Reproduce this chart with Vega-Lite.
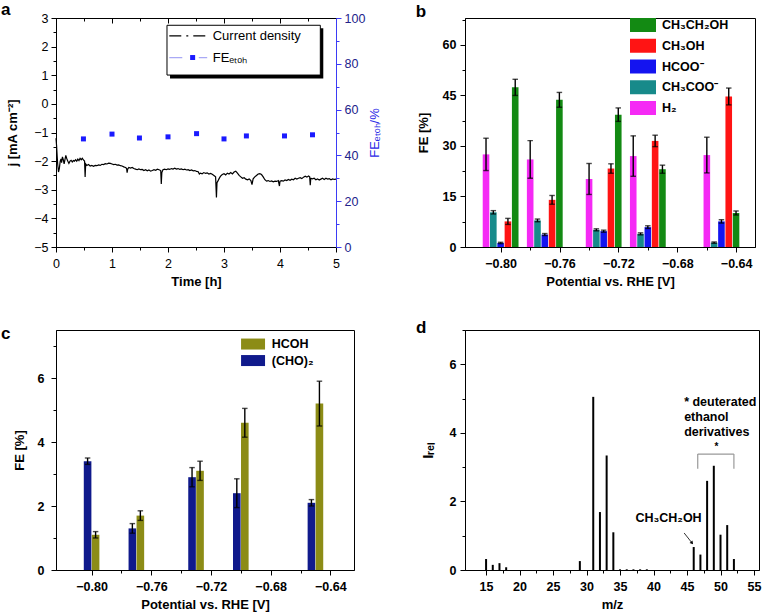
{
  "$schema": "https://vega.github.io/schema/vega-lite/v6.json",
  "background": "white",
  "padding": 0,
  "columns": 2,
  "spacing": {"row": 83, "column": 111},
  "bounds": "flush",
  "resolve": {"scale": {"color": "independent"}},
  "config": {
    "font": "Liberation Sans",
    "view": {"stroke": "black", "strokeWidth": 1},
    "axis": {"grid": false, "domainColor": "black", "tickColor": "black", "labelColor": "black", "titleColor": "black", "labelFont": "Liberation Sans", "titleFont": "Liberation Sans", "labelFontSize": 12.5, "titleFontSize": 13, "titleFontWeight": "bold", "labelOverlap": false, "labelFlush": false, "labelBound": false, "tickSize": 5, "domainWidth": 1, "tickWidth": 1},
    "title": {"anchor": "start", "frame": "group", "fontSize": 17, "fontWeight": "bold", "font": "Liberation Sans", "baseline": "alphabetic", "offset": 0, "color": "black"}
  },
  "datasets": {
    "current": [
      {"t":0,"j":-1.2},{"t":0.01,"j":-1.45},{"t":0.02,"j":-1.8},{"t":0.03,"j":-2.1},{"t":0.045,"j":-2.38},{"t":0.06,"j":-2.25},{"t":0.075,"j":-2.0},{"t":0.09,"j":-1.92},{"t":0.1,"j":-2.05},{"t":0.115,"j":-1.85},{"t":0.13,"j":-1.95},{"t":0.145,"j":-2.1},{"t":0.16,"j":-1.95},{"t":0.175,"j":-1.8},{"t":0.19,"j":-1.9},{"t":0.21,"j":-2.0},{"t":0.23,"j":-2.08},{"t":0.25,"j":-2.0},{"t":0.27,"j":-1.97},{"t":0.29,"j":-2.03},{"t":0.31,"j":-1.98},{"t":0.33,"j":-2.0},{"t":0.35,"j":-1.95},{"t":0.37,"j":-2.0},{"t":0.39,"j":-1.93},{"t":0.41,"j":-1.98},{"t":0.43,"j":-1.9},{"t":0.45,"j":-1.95},{"t":0.47,"j":-1.9},{"t":0.49,"j":-1.96},{"t":0.51,"j":-2.0},{"t":0.52,"j":-2.55},{"t":0.53,"j":-2.1},{"t":0.55,"j":-2.15},{"t":0.58,"j":-2.12},{"t":0.61,"j":-2.17},{"t":0.64,"j":-2.15},{"t":0.67,"j":-2.18},{"t":0.7,"j":-2.15},{"t":0.73,"j":-2.16},{"t":0.76,"j":-2.13},{"t":0.79,"j":-2.15},{"t":0.82,"j":-2.11},{"t":0.85,"j":-2.12},{"t":0.88,"j":-2.09},{"t":0.91,"j":-2.1},{"t":0.94,"j":-2.07},{"t":0.97,"j":-2.08},{"t":1.0,"j":-2.1},{"t":1.03,"j":-2.12},{"t":1.06,"j":-2.11},{"t":1.09,"j":-2.14},{"t":1.12,"j":-2.13},{"t":1.15,"j":-2.16},{"t":1.18,"j":-2.17},{"t":1.21,"j":-2.2},{"t":1.24,"j":-2.22},{"t":1.26,"j":-2.25},{"t":1.27,"j":-2.4},{"t":1.28,"j":-2.28},{"t":1.3,"j":-2.22},{"t":1.33,"j":-2.24},{"t":1.36,"j":-2.22},{"t":1.39,"j":-2.26},{"t":1.42,"j":-2.28},{"t":1.45,"j":-2.3},{"t":1.48,"j":-2.27},{"t":1.51,"j":-2.3},{"t":1.54,"j":-2.29},{"t":1.57,"j":-2.33},{"t":1.6,"j":-2.3},{"t":1.63,"j":-2.34},{"t":1.66,"j":-2.31},{"t":1.69,"j":-2.35},{"t":1.72,"j":-2.33},{"t":1.75,"j":-2.3},{"t":1.78,"j":-2.32},{"t":1.81,"j":-2.28},{"t":1.84,"j":-2.3},{"t":1.87,"j":-2.33},{"t":1.88,"j":-2.8},{"t":1.89,"j":-2.4},{"t":1.91,"j":-2.3},{"t":1.94,"j":-2.28},{"t":1.97,"j":-2.3},{"t":2.0,"j":-2.27},{"t":2.03,"j":-2.29},{"t":2.06,"j":-2.26},{"t":2.09,"j":-2.28},{"t":2.12,"j":-2.25},{"t":2.15,"j":-2.28},{"t":2.18,"j":-2.26},{"t":2.21,"j":-2.29},{"t":2.24,"j":-2.27},{"t":2.27,"j":-2.3},{"t":2.3,"j":-2.28},{"t":2.33,"j":-2.31},{"t":2.36,"j":-2.3},{"t":2.39,"j":-2.33},{"t":2.42,"j":-2.31},{"t":2.45,"j":-2.34},{"t":2.48,"j":-2.33},{"t":2.51,"j":-2.36},{"t":2.54,"j":-2.37},{"t":2.56,"j":-2.45},{"t":2.58,"j":-2.42},{"t":2.61,"j":-2.44},{"t":2.64,"j":-2.4},{"t":2.67,"j":-2.43},{"t":2.7,"j":-2.41},{"t":2.73,"j":-2.45},{"t":2.76,"j":-2.43},{"t":2.79,"j":-2.46},{"t":2.82,"j":-2.5},{"t":2.85,"j":-2.55},{"t":2.865,"j":-3.27},{"t":2.875,"j":-2.75},{"t":2.89,"j":-2.7},{"t":2.91,"j":-2.62},{"t":2.93,"j":-2.55},{"t":2.95,"j":-2.5},{"t":2.97,"j":-2.47},{"t":3.0,"j":-2.44},{"t":3.03,"j":-2.48},{"t":3.06,"j":-2.42},{"t":3.09,"j":-2.45},{"t":3.12,"j":-2.4},{"t":3.15,"j":-2.45},{"t":3.18,"j":-2.38},{"t":3.21,"j":-2.35},{"t":3.24,"j":-2.42},{"t":3.27,"j":-2.5},{"t":3.3,"j":-2.55},{"t":3.33,"j":-2.6},{"t":3.36,"j":-2.58},{"t":3.39,"j":-2.63},{"t":3.42,"j":-2.65},{"t":3.45,"j":-2.62},{"t":3.48,"j":-2.68},{"t":3.5,"j":-2.82},{"t":3.52,"j":-2.62},{"t":3.55,"j":-2.55},{"t":3.58,"j":-2.5},{"t":3.61,"j":-2.45},{"t":3.64,"j":-2.44},{"t":3.67,"j":-2.47},{"t":3.7,"j":-2.55},{"t":3.73,"j":-2.65},{"t":3.76,"j":-2.7},{"t":3.79,"j":-2.68},{"t":3.82,"j":-2.71},{"t":3.85,"j":-2.69},{"t":3.88,"j":-2.72},{"t":3.91,"j":-2.7},{"t":3.94,"j":-2.71},{"t":3.97,"j":-2.68},{"t":3.99,"j":-2.87},{"t":4.0,"j":-2.7},{"t":4.03,"j":-2.68},{"t":4.06,"j":-2.7},{"t":4.09,"j":-2.66},{"t":4.12,"j":-2.68},{"t":4.15,"j":-2.64},{"t":4.18,"j":-2.67},{"t":4.21,"j":-2.63},{"t":4.24,"j":-2.65},{"t":4.27,"j":-2.6},{"t":4.3,"j":-2.63},{"t":4.33,"j":-2.6},{"t":4.36,"j":-2.58},{"t":4.39,"j":-2.61},{"t":4.42,"j":-2.56},{"t":4.45,"j":-2.53},{"t":4.48,"j":-2.56},{"t":4.51,"j":-2.52},{"t":4.53,"j":-2.55},{"t":4.54,"j":-2.84},{"t":4.55,"j":-2.6},{"t":4.58,"j":-2.62},{"t":4.61,"j":-2.6},{"t":4.64,"j":-2.65},{"t":4.67,"j":-2.62},{"t":4.7,"j":-2.66},{"t":4.73,"j":-2.63},{"t":4.76,"j":-2.6},{"t":4.79,"j":-2.64},{"t":4.82,"j":-2.6},{"t":4.85,"j":-2.63},{"t":4.88,"j":-2.61},{"t":4.91,"j":-2.65},{"t":4.94,"j":-2.62},{"t":4.97,"j":-2.64},{"t":5.0,"j":-2.63}
    ],
    "feEtOH": [
      {"t":0.49,"fe":47.2},{"t":1.0,"fe":49.3},{"t":1.49,"fe":47.6},{"t":2.0,"fe":48.1},{"t":2.51,"fe":49.5},{"t":3.0,"fe":47.2},{"t":3.4,"fe":48.5},{"t":4.08,"fe":48.5},{"t":4.58,"fe":49.0}
    ],
    "fb": [
      {"potential":-0.80,"product":"H₂","fe":27.5,"err":4.8},
      {"potential":-0.80,"product":"CH₃COO⁻","fe":10.3,"err":0.5},
      {"potential":-0.80,"product":"HCOO⁻","fe":1.2,"err":0.2},
      {"potential":-0.80,"product":"CH₃OH","fe":7.6,"err":0.9},
      {"potential":-0.80,"product":"CH₃CH₂OH","fe":47.4,"err":2.4},
      {"potential":-0.77,"product":"H₂","fe":26.0,"err":5.6},
      {"potential":-0.77,"product":"CH₃COO⁻","fe":7.9,"err":0.4},
      {"potential":-0.77,"product":"HCOO⁻","fe":3.7,"err":0.3},
      {"potential":-0.77,"product":"CH₃OH","fe":14.0,"err":1.3},
      {"potential":-0.77,"product":"CH₃CH₂OH","fe":43.7,"err":2.2},
      {"potential":-0.73,"product":"H₂","fe":20.2,"err":4.6},
      {"potential":-0.73,"product":"CH₃COO⁻","fe":5.1,"err":0.3},
      {"potential":-0.73,"product":"HCOO⁻","fe":4.7,"err":0.3},
      {"potential":-0.73,"product":"CH₃OH","fe":23.3,"err":1.4},
      {"potential":-0.73,"product":"CH₃CH₂OH","fe":39.3,"err":2.0},
      {"potential":-0.70,"product":"H₂","fe":27.0,"err":6.0},
      {"potential":-0.70,"product":"CH₃COO⁻","fe":3.9,"err":0.3},
      {"potential":-0.70,"product":"HCOO⁻","fe":5.9,"err":0.4},
      {"potential":-0.70,"product":"CH₃OH","fe":31.5,"err":1.7},
      {"potential":-0.70,"product":"CH₃CH₂OH","fe":23.1,"err":1.2},
      {"potential":-0.65,"product":"H₂","fe":27.3,"err":5.3},
      {"potential":-0.65,"product":"CH₃COO⁻","fe":1.3,"err":0.2},
      {"potential":-0.65,"product":"HCOO⁻","fe":7.6,"err":0.5},
      {"potential":-0.65,"product":"CH₃OH","fe":44.7,"err":2.5},
      {"potential":-0.65,"product":"CH₃CH₂OH","fe":10.1,"err":0.6}
    ],
    "fc": [
      {"potential":-0.80,"product":"(CHO)₂","fe":3.4,"err":0.1},
      {"potential":-0.80,"product":"HCOH","fe":1.1,"err":0.1},
      {"potential":-0.77,"product":"(CHO)₂","fe":1.3,"err":0.15},
      {"potential":-0.77,"product":"HCOH","fe":1.7,"err":0.15},
      {"potential":-0.73,"product":"(CHO)₂","fe":2.9,"err":0.3},
      {"potential":-0.73,"product":"HCOH","fe":3.1,"err":0.3},
      {"potential":-0.70,"product":"(CHO)₂","fe":2.4,"err":0.45},
      {"potential":-0.70,"product":"HCOH","fe":4.6,"err":0.45},
      {"potential":-0.65,"product":"(CHO)₂","fe":2.1,"err":0.1},
      {"potential":-0.65,"product":"HCOH","fe":5.2,"err":0.7}
    ],
    "ms": [
      {"mz":15,"i":0.32},{"mz":16,"i":0.15},{"mz":17,"i":0.2},{"mz":18,"i":0.08},{"mz":29,"i":0.26},{"mz":31,"i":5.05},{"mz":32,"i":1.69},{"mz":33,"i":3.34},{"mz":34,"i":1.1},{"mz":35,"i":0.02},{"mz":36,"i":0.02},{"mz":37,"i":0.02},{"mz":38,"i":0.02},{"mz":39,"i":0.02},{"mz":46,"i":0.67},{"mz":47,"i":0.45},{"mz":48,"i":2.6},{"mz":49,"i":3.04},{"mz":50,"i":1.03},{"mz":51,"i":1.31},{"mz":52,"i":0.32}
    ]
  },
  "concat": [
    {
      "width": 280,
      "height": 229,
      "title": {"text": "a", "dx": -55, "dy": 11},
      "layer": [
        {
          "layer": [
            {
              "data": {"name": "current"},
              "mark": {"type": "line", "color": "black", "strokeWidth": 1.2},
              "encoding": {
                "x": {"field": "t", "type": "quantitative", "title": "Time [h]", "scale": {"domain": [0, 5], "nice": false, "zero": false},
                  "axis": {"values": [0,0.5,1,1.5,2,2.5,3,3.5,4,4.5,5], "tickCount": 100, "format": ".0f", "labelOverlap": false, "labelExpr": "datum.value % 1 === 0 ? datum.label : ''", "tickSize": {"condition": {"test": "datum.value % 1 !== 0", "value": 3}, "value": 5}, "labelPadding": 5, "titlePadding": 6}},
                "y": {"field": "j", "type": "quantitative", "title": "j [mA cm⁻²]", "scale": {"domain": [-5, 3], "nice": false, "zero": false},
                  "axis": {"values": [-5,-4.5,-4,-3.5,-3,-2.5,-2,-1.5,-1,-0.5,0,0.5,1,1.5,2,2.5,3], "tickCount": 100, "format": ".0f", "labelOverlap": false, "labelExpr": "datum.value % 1 === 0 ? datum.label : ''", "tickSize": {"condition": {"test": "datum.value % 1 !== 0", "value": 3}, "value": 5}, "labelPadding": 3, "titlePadding": 14}}
              }
            },
            {
              "data": {"values": [{}]},
              "mark": {"type": "rect", "color": "black"},
              "encoding": {"x": {"datum": 2.036}, "x2": {"datum": 4.773}, "y": {"datum": 2.642}, "y2": {"datum": 0.889}}
            },
            {
              "data": {"values": [{}]},
              "mark": {"type": "rect", "fill": "white", "stroke": "black", "strokeWidth": 1},
              "encoding": {"x": {"datum": 1.982}, "x2": {"datum": 4.72}, "y": {"datum": 2.746}, "y2": {"datum": 1.007}}
            },
            {
              "data": {"values": [{}]},
              "mark": {"type": "rule", "color": "black", "strokeWidth": 1.3, "strokeDash": [12, 5, 2, 5]},
              "encoding": {"x": {"datum": 2.023}, "x2": {"datum": 2.7}, "y": {"datum": 2.374}}
            },
            {
              "data": {"values": [{}]},
              "mark": {"type": "rule", "color": "#a9a9f5", "strokeWidth": 1.3, "strokeDash": [13, 16.5]},
              "encoding": {"x": {"datum": 2.023}, "x2": {"datum": 2.7}, "y": {"datum": 1.619}}
            },
            {
              "data": {"values": [{}]},
              "mark": {"type": "square", "color": "#1a1aff", "size": 25, "opacity": 1},
              "encoding": {"x": {"datum": 2.44}, "y": {"datum": 1.619}}
            },
            {
              "data": {"values": [{}]},
              "mark": {"type": "text", "text": "Current density", "align": "left", "baseline": "middle", "fontSize": 13, "font": "Liberation Sans", "color": "black"},
              "encoding": {"x": {"datum": 2.798}, "y": {"datum": 2.374}}
            },
            {
              "data": {"values": [{}]},
              "mark": {"type": "text", "text": "FEₑₜₒₕ", "align": "left", "baseline": "middle", "fontSize": 13, "font": "Liberation Sans", "color": "black"},
              "encoding": {"x": {"datum": 2.798}, "y": {"datum": 1.619}}
            }
          ]
        },
        {
          "data": {"name": "feEtOH"},
          "mark": {"type": "square", "color": "#1a1aff", "size": 25, "opacity": 1},
          "encoding": {
            "x": {"field": "t", "type": "quantitative", "title": null,
              "axis": {"orient": "top", "values": [0,0.5,1,1.5,2,2.5,3,3.5,4,4.5,5], "tickCount": 100, "labels": false, "title": null, "tickSize": {"condition": {"test": "datum.value % 1 !== 0", "value": -3}, "value": -5}}},
            "y": {"field": "fe", "type": "quantitative", "title": "FEₑₜₒₕ/%", "scale": {"domain": [0, 100], "nice": false, "zero": false},
              "axis": {"orient": "right", "values": [0,10,20,30,40,50,60,70,80,90,100], "tickCount": 100, "format": ".0f", "labelOverlap": false, "labelExpr": "datum.value % 20 === 0 ? datum.label : ''", "tickSize": {"condition": {"test": "datum.value % 20 !== 0", "value": 3}, "value": 5}, "domainColor": "#3b3bf5", "tickColor": "#3b3bf5", "labelColor": "#22228a", "titleColor": "#2a2ae6", "titleFontWeight": "normal", "titleAngle": 270, "titleBaseline": "top", "titlePadding": 4, "labelPadding": 3}}
          }
        }
      ],
      "resolve": {"scale": {"y": "independent"}, "axis": {"x": "independent"}}
    },
    {
      "width": 290,
      "height": 229,
      "title": {"text": "b", "dx": -49.3, "dy": 11},
      "data": {"name": "fb"},
      "encoding": {
        "x": {"field": "potential", "type": "quantitative", "title": "Potential vs. RHE [V]", "scale": {"domain": [-0.8208, -0.6306], "nice": false, "zero": false},
          "axis": {"values": [-0.8,-0.78,-0.76,-0.74,-0.72,-0.7,-0.68,-0.66,-0.64], "tickCount": 100, "format": ".2f", "labelOverlap": false, "labelFontWeight": "bold", "labelExpr": "round(datum.value*100) % 4 === 0 ? datum.label : ''", "tickSize": {"condition": {"test": "round(datum.value*100) % 4 !== 0", "value": 3}, "value": 5}, "labelPadding": 5, "titlePadding": 6}},
        "y": {"field": "fe", "type": "quantitative", "title": "FE [%]", "scale": {"domain": [0, 68], "nice": false, "zero": false},
          "axis": {"values": [0,7.5,15,22.5,30,37.5,45,52.5,60,67.5], "tickCount": 100, "format": ".0f", "labelOverlap": false, "labelFontWeight": "bold", "labelExpr": "datum.value % 15 === 0 ? datum.label : ''", "tickSize": {"condition": {"test": "datum.value % 15 !== 0", "value": 3}, "value": 5}, "labelPadding": 4, "titlePadding": 12}}
      },
      "layer": [
        {
          "transform": [{"filter": {"field": "product", "equal": "H₂"}}],
          "mark": {"type": "bar", "width": 6.6, "xOffset": -14.6},
          "encoding": {
            "color": {"field": "product", "type": "nominal", "scale": {"domain": ["CH₃CH₂OH","CH₃OH","HCOO⁻","CH₃COO⁻","H₂"], "range": ["#138a13","#ff1414","#1414f0","#178a8a","#f52af5"]},
              "legend": {"orient": "none", "legendX": 171, "legendY": 0, "title": null, "symbolType": "M-1.857,-1H1.857V1H-1.857Z", "symbolSize": 196, "symbolStrokeWidth": 0, "symbolOpacity": 1, "labelFontSize": 12.5, "labelFontWeight": "bold", "labelFont": "Liberation Sans", "labelColor": "black", "labelOffset": 12, "rowPadding": 6.75, "padding": 0}}
          }
        },
        {
          "transform": [{"filter": {"field": "product", "equal": "CH₃COO⁻"}}],
          "mark": {"type": "bar", "width": 6.6, "xOffset": -7.3},
          "encoding": {"color": {"field": "product", "type": "nominal"}}
        },
        {
          "transform": [{"filter": {"field": "product", "equal": "HCOO⁻"}}],
          "mark": {"type": "bar", "width": 6.6, "xOffset": 0},
          "encoding": {"color": {"field": "product", "type": "nominal"}}
        },
        {
          "transform": [{"filter": {"field": "product", "equal": "CH₃OH"}}],
          "mark": {"type": "bar", "width": 6.6, "xOffset": 7.3},
          "encoding": {"color": {"field": "product", "type": "nominal"}}
        },
        {
          "transform": [{"filter": {"field": "product", "equal": "CH₃CH₂OH"}}],
          "mark": {"type": "bar", "width": 6.6, "xOffset": 14.6},
          "encoding": {"color": {"field": "product", "type": "nominal"}}
        },
        {
          "transform": [{"filter": {"field": "product", "equal": "H₂"}}],
          "mark": {"type": "errorbar", "size": 5.5, "thickness": 1.4, "color": "black", "ticks": {"xOffset": -14.6}, "rule": {"xOffset": -14.6}},
          "encoding": {"yError": {"field": "err"}}
        },
        {
          "transform": [{"filter": {"field": "product", "equal": "CH₃COO⁻"}}],
          "mark": {"type": "errorbar", "size": 5.5, "thickness": 1.4, "color": "black", "ticks": {"xOffset": -7.3}, "rule": {"xOffset": -7.3}},
          "encoding": {"yError": {"field": "err"}}
        },
        {
          "transform": [{"filter": {"field": "product", "equal": "HCOO⁻"}}],
          "mark": {"type": "errorbar", "size": 5.5, "thickness": 1.4, "color": "black", "ticks": {"xOffset": 0}, "rule": {"xOffset": 0}},
          "encoding": {"yError": {"field": "err"}}
        },
        {
          "transform": [{"filter": {"field": "product", "equal": "CH₃OH"}}],
          "mark": {"type": "errorbar", "size": 5.5, "thickness": 1.4, "color": "black", "ticks": {"xOffset": 7.3}, "rule": {"xOffset": 7.3}},
          "encoding": {"yError": {"field": "err"}}
        },
        {
          "transform": [{"filter": {"field": "product", "equal": "CH₃CH₂OH"}}],
          "mark": {"type": "errorbar", "size": 5.5, "thickness": 1.4, "color": "black", "ticks": {"xOffset": 14.6}, "rule": {"xOffset": 14.6}},
          "encoding": {"yError": {"field": "err"}}
        }
      ]
    },
    {
      "width": 298,
      "height": 240,
      "title": {"text": "c", "dx": -55, "dy": 17},
      "data": {"name": "fc"},
      "encoding": {
        "x": {"field": "potential", "type": "quantitative", "title": "Potential vs. RHE [V]", "scale": {"domain": [-0.8205, -0.6275], "nice": false, "zero": false},
          "axis": {"values": [-0.8,-0.78,-0.76,-0.74,-0.72,-0.7,-0.68,-0.66,-0.64], "tickCount": 100, "format": ".2f", "labelOverlap": false, "labelFontWeight": "bold", "labelExpr": "round(datum.value*100) % 4 === 0 ? datum.label : ''", "tickSize": {"condition": {"test": "round(datum.value*100) % 4 !== 0", "value": 3}, "value": 5}, "labelPadding": 5, "titlePadding": 6}},
        "y": {"field": "fe", "type": "quantitative", "title": "FE [%]", "scale": {"domain": [0, 7.5], "nice": false, "zero": false},
          "axis": {"values": [0,1,2,3,4,5,6,7], "tickCount": 100, "format": ".0f", "labelOverlap": false, "labelFontWeight": "bold", "labelExpr": "datum.value % 2 === 0 ? datum.label : ''", "tickSize": {"condition": {"test": "datum.value % 2 !== 0", "value": 3}, "value": 5}, "labelPadding": 7, "titlePadding": 11}}
      },
      "layer": [
        {
          "transform": [{"filter": {"field": "product", "equal": "(CHO)₂"}}],
          "mark": {"type": "bar", "width": 7.6, "xOffset": -4},
          "encoding": {
            "color": {"field": "product", "type": "nominal", "scale": {"domain": ["HCOH","(CHO)₂"], "range": ["#8c8c16","#101a8c"]},
              "legend": {"orient": "none", "legendX": 190.8, "legendY": 7.8, "title": null, "symbolType": "M-2.18,-1H2.18V1H-2.18Z", "symbolSize": 121, "symbolStrokeWidth": 0, "symbolOpacity": 1, "labelFontSize": 12.5, "labelFontWeight": "bold", "labelFont": "Liberation Sans", "labelColor": "black", "labelOffset": 12.5, "rowPadding": 3.5, "padding": 0}}
          }
        },
        {
          "transform": [{"filter": {"field": "product", "equal": "HCOH"}}],
          "mark": {"type": "bar", "width": 7.6, "xOffset": 4},
          "encoding": {"color": {"field": "product", "type": "nominal"}}
        },
        {
          "transform": [{"filter": {"field": "product", "equal": "(CHO)₂"}}],
          "mark": {"type": "errorbar", "size": 5.5, "thickness": 1.4, "color": "black", "ticks": {"xOffset": -4}, "rule": {"xOffset": -4}},
          "encoding": {"yError": {"field": "err"}}
        },
        {
          "transform": [{"filter": {"field": "product", "equal": "HCOH"}}],
          "mark": {"type": "errorbar", "size": 5.5, "thickness": 1.4, "color": "black", "ticks": {"xOffset": 4}, "rule": {"xOffset": 4}},
          "encoding": {"yError": {"field": "err"}}
        }
      ]
    },
    {
      "width": 294,
      "height": 240,
      "title": {"text": "d", "dx": -49, "dy": 17},
      "layer": [
        {
          "data": {"name": "ms"},
          "mark": {"type": "bar", "width": 2, "color": "black"},
          "encoding": {
            "x": {"field": "mz", "type": "quantitative", "title": "m/z", "scale": {"domain": [12.6, 55], "nice": false, "zero": false},
              "axis": {"values": [15,17.5,20,22.5,25,27.5,30,32.5,35,37.5,40,42.5,45,47.5,50,52.5,55], "tickCount": 100, "format": ".0f", "labelOverlap": false, "labelFontWeight": "bold", "labelExpr": "datum.value % 5 === 0 ? datum.label : ''", "tickSize": {"condition": {"test": "datum.value % 5 !== 0", "value": 3}, "value": 5}, "labelPadding": 5, "titlePadding": 6}},
            "y": {"field": "i", "type": "quantitative", "title": "Iᵣₑₗ", "scale": {"domain": [0, 7], "nice": false, "zero": false},
              "axis": {"values": [0,1,2,3,4,5,6,7], "tickCount": 100, "format": ".0f", "labelOverlap": false, "labelFontWeight": "bold", "labelExpr": "datum.value % 2 === 0 ? datum.label : ''", "tickSize": {"condition": {"test": "datum.value % 2 !== 0", "value": 3}, "value": 5}, "labelPadding": 4, "titlePadding": 14, "titleFontSize": 15}}
          }
        },
        {
          "data": {"values": [{}]},
          "mark": {"type": "text", "text": "* deuterated", "align": "left", "baseline": "middle", "fontSize": 12.5, "fontWeight": "bold", "font": "Liberation Sans", "color": "black"},
          "encoding": {"x": {"datum": 44.57}, "y": {"datum": 4.9}}
        },
        {
          "data": {"values": [{}]},
          "mark": {"type": "text", "text": "ethanol", "align": "left", "baseline": "middle", "fontSize": 12.5, "fontWeight": "bold", "font": "Liberation Sans", "color": "black"},
          "encoding": {"x": {"datum": 44.57}, "y": {"datum": 4.46}}
        },
        {
          "data": {"values": [{}]},
          "mark": {"type": "text", "text": "derivatives", "align": "left", "baseline": "middle", "fontSize": 12.5, "fontWeight": "bold", "font": "Liberation Sans", "color": "black"},
          "encoding": {"x": {"datum": 44.57}, "y": {"datum": 4.02}}
        },
        {
          "data": {"values": [{}]},
          "mark": {"type": "text", "text": "*", "align": "center", "baseline": "middle", "fontSize": 10, "fontWeight": "bold", "font": "Liberation Sans", "color": "black"},
          "encoding": {"x": {"datum": 49.4}, "y": {"datum": 3.58}}
        },
        {
          "data": {"values": [{}]},
          "mark": {"type": "rule", "color": "#999999", "strokeWidth": 1.2},
          "encoding": {"x": {"datum": 46.6}, "x2": {"datum": 52.0}, "y": {"datum": 3.38}}
        },
        {
          "data": {"values": [{}]},
          "mark": {"type": "rule", "color": "#999999", "strokeWidth": 1.2},
          "encoding": {"x": {"datum": 46.6}, "y": {"datum": 3.38}, "y2": {"datum": 2.95}}
        },
        {
          "data": {"values": [{}]},
          "mark": {"type": "rule", "color": "#999999", "strokeWidth": 1.2},
          "encoding": {"x": {"datum": 52.0}, "y": {"datum": 3.38}, "y2": {"datum": 2.95}}
        },
        {
          "data": {"values": [{}]},
          "mark": {"type": "text", "text": "CH₃CH₂OH", "align": "center", "baseline": "middle", "fontSize": 12.5, "fontWeight": "bold", "font": "Liberation Sans", "color": "black"},
          "encoding": {"x": {"datum": 42.24}, "y": {"datum": 1.52}}
        },
        {
          "data": {"values": [{}]},
          "mark": {"type": "rule", "color": "black", "strokeWidth": 0.8},
          "encoding": {"x": {"datum": 44.57}, "y": {"datum": 1.08}, "x2": {"datum": 45.7}, "y2": {"datum": 0.8}}
        },
        {
          "data": {"values": [{}]},
          "mark": {"type": "point", "shape": "triangle", "filled": true, "color": "black", "size": 14, "angle": 141, "opacity": 1},
          "encoding": {"x": {"datum": 45.7}, "y": {"datum": 0.8}}
        }
      ]
    }
  ]
}
